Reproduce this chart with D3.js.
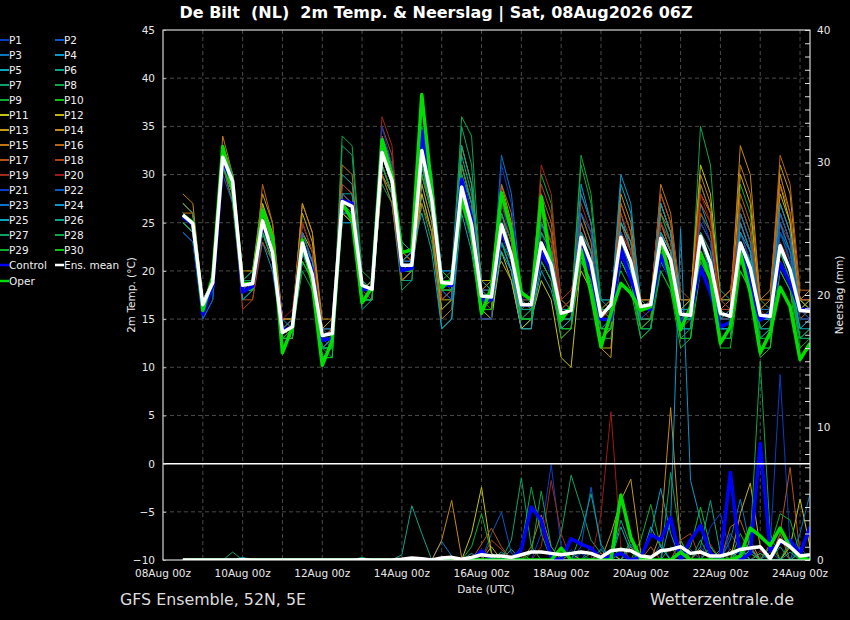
<!DOCTYPE html>
<html><head><meta charset="utf-8">
<script src="https://cdn.jsdelivr.net/npm/d3@7/dist/d3.min.js"></script>
<style>
body{margin:0;background:#000}
svg{display:block}
text{font-family:"DejaVu Sans","Noto Sans",sans-serif}
</style>
</head><body>
<svg id="chart" width="850" height="620"></svg>
<script>
// ---------------- DATA ----------------
const runStartUTC = Date.UTC(2026,7,8,12); // first valid time 08Aug 12Z
const stepHours = 6;
const xTickLabels = ["08Aug 00z","10Aug 00z","12Aug 00z","14Aug 00z","16Aug 00z","18Aug 00z","20Aug 00z","22Aug 00z","24Aug 00z"];
const xTickDates = [[8],[10],[12],[14],[16],[18],[20],[22],[24]];
const tempTicks = [45,40,35,30,25,20,15,10,5,0,-5,-10];
const precTicks = [40,30,20,10,0];
const memberNames = ["P1","P2","P3","P4","P5","P6","P7","P8","P9","P10","P11","P12","P13","P14","P15","P16","P17","P18","P19","P20","P21","P22","P23","P24","P25","P26","P27","P28","P29","P30"];
const memberColors = ["#0a3cc8","#0a58c8","#0a74c4","#0a98cc","#0aa8b8","#0aa48a","#0aa466","#0aa84a","#0aae2c","#12c012","#c4c412","#c4b012","#c49a12","#c48a12","#c07412","#b86412","#b85212","#b04018","#a02a18","#a01818","#0a3cc8","#0a58c8","#0a74c4","#0a98cc","#0aa8b8","#0aa48a","#0aa466","#0aa84a","#0aae2c","#12c012"];

// 2m temperature (°C), 6-hourly
const tP1=[26,25,16,18,33,29,18,19,26,22,13,13,24,21,13,14,28,27,17,18,33,30,21,20,30,26,18,19,30,26,18,17,27,23,15,16,24,21,15,15,22,20,14,15,25,22,16,17,22,20,14,14,26,23,16,15,24,21,14,15,25,21,16,15];
const tP2=[25,24,16,18,31,28,18,18,24,21,14,14,22,19,12,13,26,26,18,19,34,31,20,20,29,25,17,18,28,24,16,16,26,23,17,17,21,19,14,15,25,22,16,16,22,20,15,15,24,22,16,16,21,19,14,14,25,22,16,16,22,19,14,15];
const tP3=[26,25,17,19,32,30,19,19,25,22,15,15,23,21,14,13,29,28,18,18,31,28,20,21,33,28,19,18,27,23,16,17,32,28,18,17,26,23,16,16,21,19,14,15,24,21,15,16,26,23,16,15,24,22,15,16,21,19,13,14,24,22,16,17];
const tP4=[24,23,15,17,31,27,17,18,23,20,13,13,25,22,14,14,26,25,17,17,32,29,22,22,35,30,20,19,31,27,18,18,24,21,15,15,22,20,15,15,29,25,17,16,26,22,16,16,21,19,14,14,27,24,17,17,23,21,15,15,26,23,17,17];
const tP5=[26,25,16,19,32,29,19,20,27,23,15,14,22,20,12,12,30,29,19,18,34,31,23,22,28,24,14,15,26,22,15,15,23,20,14,15,20,18,14,14,23,21,15,16,29,26,17,17,25,23,16,16,22,20,14,14,27,24,16,16,21,19,14,15];
const tP6=[27,26,17,19,31,28,18,19,24,21,14,14,24,21,14,14,25,25,16,17,30,27,19,19,31,26,18,19,32,28,19,18,28,24,17,17,25,22,16,17,24,22,16,16,21,19,14,15,23,21,15,15,29,26,18,17,22,19,13,14,23,20,15,15];
const tP7=[27,26,16,18,33,30,19,20,25,23,14,15,21,19,12,11,33,32,19,18,29,27,18,19,33,28,19,20,35,31,17,16,25,22,16,17,23,21,14,14,26,23,17,17,24,21,17,16,27,24,16,16,20,18,13,13,26,23,15,15,27,24,17,16];
const tP8=[25,24,16,18,32,29,19,19,24,22,14,14,20,18,11,12,34,33,20,19,31,28,19,20,27,23,16,17,36,34,18,17,23,20,14,14,27,24,17,16,20,18,13,14,23,21,15,16,26,23,15,16,35,31,17,16,21,19,13,13,25,22,15,15];
const tP9=[26,25,17,19,33,29,18,18,26,23,15,15,23,20,13,13,27,26,17,18,33,30,21,21,31,26,19,19,29,25,17,18,27,24,18,17,30,27,17,16,32,28,17,17,22,20,15,15,20,18,12,13,24,21,16,15,29,26,17,16,22,20,13,14];
const tP10=[25,24,16,18,32,28,18,19,25,22,13,14,22,19,12,12,27,27,18,19,32,29,20,20,33,29,20,19,30,26,16,17,24,21,15,16,22,20,16,17,24,22,16,17,20,18,13,14,22,20,14,15,26,24,16,16,20,18,11,12,24,21,16,16];
const tP11=[26,25,16,18,31,28,18,19,26,23,14,13,24,22,13,14,26,25,17,17,33,30,21,22,30,26,18,18,28,25,16,15,22,19,14,15,19,17,11,10,21,19,13,14,23,21,16,16,25,22,16,17,31,28,17,18,23,20,14,14,29,25,17,16];
const tP12=[27,26,16,19,32,29,19,18,27,24,15,15,26,23,14,14,28,27,18,18,31,28,20,20,28,24,17,17,33,29,19,19,21,19,14,14,24,22,15,16,23,21,12,12,25,23,17,17,28,25,17,17,23,21,15,15,30,27,16,17,28,25,16,17];
const tP13=[27,26,17,19,33,30,20,20,28,25,15,15,27,24,14,15,26,25,17,17,30,28,19,20,29,25,16,17,31,27,18,19,29,25,16,16,23,21,15,15,20,18,12,11,27,24,16,16,24,22,16,16,25,23,17,17,25,22,16,16,31,28,17,18];
const tP14=[28,27,17,19,32,29,18,19,26,23,14,15,27,24,15,15,29,28,18,19,33,30,22,21,31,27,18,18,28,24,16,17,26,23,15,15,25,23,15,15,28,25,16,15,28,25,16,16,27,24,16,17,30,27,16,16,33,30,17,18,30,26,17,17];
const tP15=[26,26,17,18,34,30,19,18,25,23,14,14,22,20,12,13,31,30,18,18,32,29,21,21,27,24,15,16,30,26,17,16,28,24,16,16,21,19,13,14,25,22,15,15,24,22,15,16,29,26,17,17,28,26,16,17,31,28,17,17,26,23,15,16];
const tP16=[25,24,16,18,33,29,18,18,29,25,15,15,23,21,13,14,28,27,17,17,30,27,19,20,30,26,17,18,27,23,15,15,29,26,17,16,28,25,16,17,26,23,14,14,25,22,15,15,26,24,16,16,29,26,15,15,28,25,16,17,32,29,18,18];
const tP17=[27,26,17,19,31,27,17,17,24,21,14,13,25,22,13,13,27,26,18,18,34,31,22,21,32,28,18,19,29,25,16,16,25,22,15,15,27,24,16,16,24,22,16,17,27,24,17,17,25,22,16,16,27,25,17,18,26,23,16,16,29,26,17,17];
const tP18=[26,25,16,18,32,28,16,17,23,21,14,15,24,21,13,14,28,27,18,17,35,32,20,20,30,26,17,18,31,27,17,17,26,23,16,16,29,26,17,18,22,20,15,15,26,23,16,17,28,25,18,17,26,24,16,16,27,24,16,16,27,24,16,16];
const tP19=[27,26,16,19,33,30,19,19,25,22,14,14,23,20,12,13,29,28,17,18,36,33,21,21,31,27,19,19,28,24,17,16,24,22,16,16,31,28,16,17,27,24,16,16,23,21,14,15,25,23,16,16,24,22,15,15,24,21,15,15,25,23,16,16];
const tP20=[26,25,17,18,31,28,18,18,26,22,15,16,25,22,14,14,27,26,17,18,31,28,20,21,34,29,19,19,30,26,18,18,27,24,17,17,26,23,17,16,23,21,15,16,24,22,16,15,23,21,14,15,28,25,17,16,25,22,16,15,23,21,15,15];
const tP21=[25,24,16,18,32,29,18,19,24,22,14,14,21,19,12,12,28,27,17,17,35,31,21,21,34,29,18,17,27,23,15,15,31,27,17,18,24,22,15,16,22,20,15,15,22,20,15,16,24,21,15,15,25,23,14,14,22,20,14,14,24,21,15,15];
const tP22=[24,23,15,17,30,27,18,18,24,21,14,14,23,20,13,12,27,27,18,18,32,29,20,21,33,28,20,20,28,25,17,17,25,22,16,16,22,20,15,15,26,24,16,16,24,21,14,14,22,20,14,14,23,21,15,15,24,21,15,15,26,23,16,15];
const tP23=[26,25,16,18,32,29,19,19,25,22,14,15,24,21,14,14,25,25,17,17,33,30,21,21,32,27,18,17,29,26,18,18,24,21,15,15,25,22,16,16,28,25,17,17,23,20,14,14,24,21,15,16,22,20,14,14,26,23,16,16,25,22,16,16];
const tP24=[25,24,16,18,31,28,18,18,24,21,13,13,22,19,12,13,27,26,17,17,32,29,21,22,34,29,20,20,30,26,17,17,23,20,14,14,22,20,14,15,24,22,16,16,30,27,16,16,27,24,16,16,23,20,14,14,25,22,15,16,27,24,16,16];
const tP25=[26,25,16,18,31,28,17,18,25,22,14,14,23,21,13,13,26,26,17,18,31,28,21,22,26,22,14,15,28,24,16,16,22,20,15,15,21,19,14,15,22,20,14,14,25,23,16,16,24,22,15,15,22,19,14,14,24,22,15,15,22,20,14,14];
const tP26=[26,25,16,19,32,29,19,19,25,22,14,14,22,20,13,13,28,28,18,18,32,29,20,20,31,27,18,18,33,29,19,18,26,22,16,16,23,21,16,16,22,20,15,15,22,20,15,15,21,19,14,14,24,22,15,16,23,21,14,14,21,19,13,13];
const tP27=[27,26,17,19,32,30,19,19,26,23,14,14,22,20,12,12,27,26,17,17,32,29,20,21,31,26,18,19,30,27,17,17,25,22,17,16,22,20,15,15,21,19,14,14,21,19,14,14,23,21,15,15,21,19,13,13,22,20,14,15,20,18,13,14];
const tP28=[26,25,16,18,33,30,18,18,25,22,14,14,22,20,12,12,27,27,18,18,33,30,20,20,32,27,18,19,31,27,16,16,24,22,15,15,24,22,15,16,31,27,16,16,21,19,13,14,22,20,13,14,21,19,13,13,20,18,12,12,22,19,13,13];
const tP29=[26,25,16,18,32,29,18,18,24,22,13,14,21,19,11,11,27,26,17,18,31,28,20,20,30,26,18,18,28,25,16,16,23,21,15,15,21,19,13,14,21,19,13,13,22,20,14,14,20,18,13,13,22,20,13,13,21,19,13,13,21,19,12,13];
const tP30=[25,24,16,18,31,28,18,18,24,21,13,13,21,19,11,11,27,27,17,17,32,29,20,20,33,28,19,19,29,26,16,16,24,21,15,15,22,20,14,14,22,20,14,14,21,19,14,15,21,19,13,13,20,18,12,12,20,18,12,12,20,18,11,12];
const tControl=[25.6,24.8,15.5,18.5,31.5,29.0,17.8,18.4,25.0,22.0,13.8,14.2,23.0,20.0,12.8,13.0,27.3,27.0,18.0,18.3,33.5,30.0,20.0,20.3,34.5,28.0,18.5,18.5,29.5,25.5,17.0,17.0,24.2,21.5,16.5,16.5,22.0,20.0,15.4,16.0,22.5,20.0,15.0,14.9,22.2,19.1,16.3,16.0,21.6,19.1,14.6,15.6,20.4,17.7,14.2,14.7,22.5,18.7,14.9,15.6,20.8,18.7,16.0,16.0];
const tOper=[25.8,25.0,15.9,19.4,32.9,28.4,18.7,18.7,26.3,23.5,11.5,14.2,23.2,18.7,10.2,12.8,27.0,25.3,16.7,18.3,33.6,30.0,21.9,22.2,38.3,28.4,18.3,19.1,27.4,23.9,15.6,18.3,28.1,24.2,17.7,17.0,27.7,20.4,14.9,16.3,22.2,17.7,12.1,15.6,18.7,17.7,15.9,16.3,23.2,19.1,13.9,16.3,21.9,19.1,12.5,14.2,21.9,17.7,11.5,13.6,18.3,16.3,10.8,12.5];
const tMean=[25.8,24.9,16.5,18.8,31.8,29.3,18.5,18.7,25.2,21.9,13.6,14.2,22.9,19.6,13.3,13.5,27.2,26.7,18.5,18.1,32.3,29.4,20.6,20.6,32.5,27.4,18.8,18.7,28.7,24.8,17.4,17.3,24.8,21.6,16.5,16.5,22.9,20.6,15.6,15.9,23.5,20.8,15.3,16.5,23.5,20.9,16.3,16.5,23.4,21.1,15.5,15.4,23.6,20.8,15.6,15.3,22.9,20.3,15.4,15.3,22.6,20.1,15.9,15.8];

// Precipitation (mm)
const pP1=[0,0,0,0,0,0,0,0,0,0,0,0,0,0,0,0,0,0,0,0,0,0,0,0,0,0,0,0,0,0,0,0,0,0,0,0,2,7.2,1,0,0,0,0,0,.5,0,0,0,0,0,0,0,1,0,0,0,0,0,0,1,14,1,0,0];
const pP2=[0,0,0,0,0,0,0,0,0,0,0,0,0,0,0,0,0,0,0,0,0,0,0,0,0,0,0,0,0,0,0,2,3.6,.5,0,0,0,0,0,0,.5,0,0,0,0,0,0,0,1.2,0,0,0,0,0,0,2,.8,0,0,0,0,0,0,0];
const pP3=[0,0,0,0,0,0,0,0,0,0,0,0,0,0,0,0,0,0,0,0,0,0,0,0,0,0,1.4,.3,0,0,0,0,0,0,0,0,0,0,0,0,0,1,0,0,0,.8,0,0,0,0,0,0,0,0,0,1.5,4.6,1,0,0,0,0,.6,0];
const pP4=[0,0,0,0,0,0,0,0,0,0,0,0,0,0,0,0,0,0,0,0,0,0,0,0,0,0,0,0,0,0,.5,0,0,0,0,0,0,0,0,0,0,0,0,.6,0,0,0,2,5.4,2,0,0,0,1,0,0,0,0,.5,0,0,0,0,0];
const pP5=[0,0,0,0,0,0,.2,0,0,0,0,0,0,0,0,0,0,0,0,0,0,0,0,0,0,0,0,0,0,0,0,0,0,.8,0,0,0,0,0,0,0,0,0,0,2.5,.6,0,0,0,0,1.5,0,0,0,0,0,0,.8,0,0,0,1.2,0,0];
const pP6=[0,0,0,0,0,0,0,0,0,0,0,0,0,0,0,0,0,0,0,0,0,0,.4,4.1,2,0,0,0,0,.5,0,0,0,0,0,0,0,0,0,0,0,0,0,0,3,1,0,0,0,0,0,0,1,4.5,.5,0,0,0,0,0,1,0,0,0];
const pP7=[0,0,0,0,0,.6,0,0,0,0,0,0,0,0,0,0,0,0,0,0,0,0,0,0,0,0,0,0,0,0,0,0,0,0,0,0,0,0,2,6.4,4,1.5,.5,0,0,0,0,0,0,1,0,0,0,0,0,0,.8,0,0,0,0,0,0,0];
const pP8=[0,0,0,0,0,0,0,0,0,0,0,0,0,0,0,0,0,0,0,0,0,0,0,0,0,0,0,0,0,0,0,0,0,0,1,5.5,2,0,0,0,0,.5,0,0,0,0,0,0,0,6.6,1.5,0,0,0,0,0,0,0,.5,0,0,0,0,0];
const pP9=[0,0,0,0,0,0,0,0,0,0,0,0,0,0,0,0,0,0,0,0,0,0,0,0,0,0,0,0,0,1,3.5,.5,0,0,0,0,0,0,0,0,0,0,0,0,0,0,1.5,4.2,1,0,0,0,0,0,0,.6,0,0,0,0,0,1.5,0,0];
const pP10=[0,0,0,0,0,0,0,0,0,0,0,0,0,0,0,0,0,0,0,0,0,0,0,0,0,0,0,0,0,0,0,0,0,0,.5,0,0,0,0,0,0,0,0,0,1,0,0,0,0,0,0,1,4,1,0,0,0,0,0,0,0,0,.5,0];
const pP11=[0,0,0,0,0,0,0,0,0,0,0,0,0,0,0,0,0,0,0,0,0,0,0,0,0,0,0,0,0,2,5.5,.5,0,0,0,0,0,0,0,.5,0,0,0,0,0,0,0,0,0,0,.7,0,0,0,0,0,0,0,0,0,0,1,4.6,1];
const pP12=[0,0,0,0,0,0,0,0,0,0,0,0,0,0,0,0,0,0,0,0,0,0,0,0,0,0,0,0,0,0,0,1,0,0,0,0,0,0,0,0,0,0,0,.5,0,0,0,0,0,0,0,0,0,0,0,0,3.5,5.8,1,0,0,0,0,0];
const pP13=[0,0,0,0,0,0,0,0,0,0,0,0,0,0,0,0,0,0,0,0,0,0,0,0,0,0,0,0,0,0,0,0,0,0,0,0,0,0,0,0,0,0,0,2,4.5,6.1,.5,0,0,0,0,0,0,0,0,.8,0,0,0,0,0,0,0,0];
const pP14=[0,0,0,0,0,0,0,0,0,0,0,0,0,0,0,0,0,0,0,0,0,0,0,0,0,0,1.5,4.5,.2,0,0,0,0,0,0,0,0,0,0,0,0,0,0,0,0,0,0,0,2,11.5,1,0,0,0,0,0,0,1.5,0,0,0,0,0,0];
const pP15=[0,0,0,0,0,0,0,0,0,0,0,0,0,0,0,0,0,0,0,0,0,0,0,0,0,0,0,0,0,0,0,0,0,0,0,1,3.4,1,0,0,0,0,0,0,0,1,0,0,0,0,0,0,.8,0,0,0,0,0,0,1.2,0,0,0,0];
const pP16=[0,0,0,0,0,0,0,0,0,0,0,0,0,0,0,0,0,0,0,0,0,0,0,0,0,0,0,0,0,0,0,0,0,0,0,0,0,0,.6,0,0,0,0,0,0,0,0,1,0,0,0,0,0,0,0,2.5,3,1,0,0,2,0,0,0];
const pP17=[0,0,0,0,0,0,0,0,0,0,0,0,0,0,0,0,0,0,0,0,0,0,0,0,0,0,0,0,0,0,1.2,2.4,1,0,0,0,0,0,0,0,0,0,.5,0,0,0,0,0,0,0,0,0,0,0,0,0,0,0,0,0,2,7,.5,0];
const pP18=[0,0,0,0,0,0,0,0,0,0,0,0,0,0,0,0,0,0,0,0,0,0,0,0,0,0,0,0,0,0,0,1.5,.8,0,0,0,0,0,0,0,0,0,0,0,0,0,0,0,0,0,1.5,2,0,0,.6,0,0,0,0,0,0,0,0,0];
const pP19=[0,0,0,0,0,0,0,0,0,0,0,0,0,0,0,0,0,0,0,0,0,0,0,0,0,0,0,0,0,0,0,0,0,0,0,0,1,6,2,0,0,0,0,0,0,0,.5,0,0,0,0,0,0,1.2,0,0,0,0,0,0,0,0,0,0];
const pP20=[0,0,0,0,0,0,0,0,0,0,0,0,0,0,0,0,0,0,0,0,0,0,0,0,0,0,0,0,0,0,0,0,0,0,0,0,0,0,0,0,0,0,3.4,11.2,1,0,0,0,0,0,0,0,0,0,0,0,0,0,.7,0,0,0,0,0];
const pP21=[0,0,0,0,0,0,0,0,0,0,0,0,0,0,0,0,0,0,0,0,0,0,0,0,0,0,0,0,0,0,0,0,0,0,0,0,0,0,0,.8,0,0,0,0,0,0,0,0,0,0,0,0,0,2.5,3.5,.5,0,0,0,0,0,0,1,0];
const pP22=[0,0,0,0,0,0,0,0,0,0,0,0,0,0,0,0,0,0,0,0,0,0,0,0,0,0,0,0,0,0,0,0,0,0,0,0,0,0,0,0,1,5.5,1,0,0,0,0,0,0,0,.5,0,0,0,0,0,0,0,0,.6,0,0,0,0];
const pP23=[0,0,0,0,0,0,0,0,0,0,0,0,0,0,0,0,0,0,0,0,0,0,0,0,0,0,0,0,0,0,.4,0,0,0,0,0,0,0,0,0,0,0,0,0,0,1.2,0,0,0,0,0,.8,0,0,0,0,0,0,0,0,0,0,2,5];
const pP24=[0,0,0,0,0,0,0,0,0,0,0,0,0,0,0,0,0,0,0,0,0,0,0,0,0,0,0,0,0,0,0,0,0,0,0,0,0,0,0,0,0,0,0,0,0,0,0,0,0,3,25,6,3,0,0,0,1,0,0,0,0,0,0,0];
const pP25=[0,0,0,0,0,0,0,0,0,0,0,0,0,0,0,0,0,0,0,0,0,0,0,0,0,0,0,0,0,0,0,0,.6,0,0,0,0,0,0,0,0,0,.8,0,0,0,0,2.5,1,0,0,0,0,0,0,0,0,.8,0,0,0,0,0,0];
const pP26=[0,0,0,0,0,0,0,0,0,0,0,0,0,0,0,0,0,0,0,0,0,0,0,0,0,0,0,0,0,0,0,0,0,0,0,0,0,0,0,0,2,5,1.2,0,0,0,0,0,0,0,0,0,0,0,.8,0,0,0,0,0,0,.6,0,0];
const pP27=[0,0,0,0,0,0,0,0,0,0,0,0,0,0,0,0,0,0,.2,0,0,0,0,0,0,0,0,0,0,0,0,0,0,1.5,6.2,1,0,0,0,0,0,0,0,0,0,0,.6,0,0,0,0,0,1.5,0,0,0,0,0,0,0,0,0,0,0];
const pP28=[0,0,0,0,0,0,0,0,0,0,0,0,0,0,0,0,0,0,0,0,0,0,0,0,0,0,0,0,0,0,0,0,0,0,0,.5,5.2,1,0,0,0,0,0,0,0,0,0,0,0,0,0,0,0,0,0,0,0,1.5,15,2,0,0,0,0];
const pP29=[0,0,0,0,0,0,0,0,0,0,0,0,0,0,0,0,0,0,0,0,0,0,0,0,0,0,0,0,0,0,0,0,0,0,0,0,0,0,0,0,0,0,0,0,.6,0,0,0,0,0,0,0,0,1,0,0,0,0,0,1,3.5,3,.5,0];
const pP30=[0,0,0,0,0,0,0,0,0,0,0,0,0,0,0,0,0,0,0,0,0,0,0,0,0,0,0,0,0,0,0,0,0,0,0,0,0,0,.6,0,0,0,0,0,0,1.5,0,0,0,0,.8,0,0,0,0,0,2,.5,0,0,0,0,0,0];
const pControl=[0,0,0,0,0,0,0,0,0,0,0,0,0,0,0,0,0,0,0,0,0,0,0,0,0,0,0,0,0,0,.7,0,0,0,.8,4,3,.2,0,1.6,1.2,.9,.1,.3,.5,0,.2,1.9,1.5,3.2,0,1.5,2.6,.5,0,6.6,0,.5,8.8,.7,1.3,1.5,.5,2.5];
const pOper=[0,0,0,0,0,0,0,0,0,0,0,0,0,0,0,0,0,0,0,0,0,0,0,0,0,0,0,0,0,0,0,0,0,0,0,0,0,0,.9,0,0,0,0,0,4.9,1.7,.1,0,0,0,.6,0,0,0,0,0,.3,2.4,1.8,1.1,2.4,1,.2,0];
const pMean=[0,0,0,0,0,0,.02,0,0,0,0,0,0,0,0,0,0,0,.02,0,0,0,.05,.15,.1,0,.15,.2,.05,.2,.4,.3,.3,.2,.4,.6,.6,.5,.4,.5,.6,.5,.2,.7,.8,.7,.3,.2,.7,.8,1,.5,.6,.3,.3,.5,.8,.9,1,.1,1.5,1,.3,.4];

const tempMembers=[tP1,tP2,tP3,tP4,tP5,tP6,tP7,tP8,tP9,tP10,tP11,tP12,tP13,tP14,tP15,tP16,tP17,tP18,tP19,tP20,tP21,tP22,tP23,tP24,tP25,tP26,tP27,tP28,tP29,tP30];
const precMembers=[pP1,pP2,pP3,pP4,pP5,pP6,pP7,pP8,pP9,pP10,pP11,pP12,pP13,pP14,pP15,pP16,pP17,pP18,pP19,pP20,pP21,pP22,pP23,pP24,pP25,pP26,pP27,pP28,pP29,pP30];

// ---------------- CHART ----------------
const svg=d3.select("#chart");
svg.append("rect").attr("width",850).attr("height",620).attr("fill","#000");
const P={l:163,r:810,t:30,b:560};
const times=tMean.map((d,i)=>new Date(runStartUTC+i*stepHours*3600e3));
const x=d3.scaleUtc().domain([new Date(Date.UTC(2026,7,8,0)),new Date(Date.UTC(2026,7,24,6))]).range([P.l,P.r]);
const yT=d3.scaleLinear().domain([-10,45]).range([P.b,P.t]);
const yP=d3.scaleLinear().domain([0,40]).range([P.b,P.t]);

svg.append("clipPath").attr("id","clip").append("rect").attr("x",P.l).attr("y",P.t).attr("width",P.r-P.l).attr("height",P.b-P.t);

const grid=svg.append("g");
const gridColor="#4a4a4a";
tempTicks.filter(v=>v!==45&&v!==-10&&v!==0).forEach(v=>{
  grid.append("line").attr("x1",P.l).attr("x2",P.r).attr("y1",yT(v)).attr("y2",yT(v))
    .attr("stroke",gridColor).attr("stroke-dasharray","4,3").attr("stroke-width",1);
});
d3.range(9,25).forEach(day=>{
  const xx=x(new Date(Date.UTC(2026,7,day,0)));
  grid.append("line").attr("x1",xx).attr("x2",xx).attr("y1",P.t).attr("y2",P.b)
    .attr("stroke",gridColor).attr("stroke-dasharray","4,3").attr("stroke-width",1);
});

const plot=svg.append("g").attr("clip-path","url(#clip)");
const lineT=d3.line().x((d,i)=>x(times[i])).y(d=>yT(d));
const lineP=d3.line().x((d,i)=>x(times[i])).y(d=>yP(d));

tempMembers.forEach((s,k)=>{
  plot.append("path").attr("d",lineT(s)).attr("fill","none").attr("stroke",memberColors[k]).attr("stroke-width",1);
});
precMembers.forEach((s,k)=>{
  plot.append("path").attr("d",lineP(s)).attr("fill","none").attr("stroke",memberColors[k]).attr("stroke-width",1);
});
// zero line
svg.append("line").attr("x1",P.l).attr("x2",P.r).attr("y1",yT(0)).attr("y2",yT(0)).attr("stroke","#fff").attr("stroke-width",1.5);

const thick=[[tControl,pControl,"#0000ff"],[tOper,pOper,"#00dd00"],[tMean,pMean,"#ffffff"]];
thick.forEach(([t,p,c])=>{
  plot.append("path").attr("d",lineP(p)).attr("fill","none").attr("stroke",c).attr("stroke-width",3.5).attr("stroke-linejoin","round");
  plot.append("path").attr("d",lineT(t)).attr("fill","none").attr("stroke",c).attr("stroke-width",3.5).attr("stroke-linejoin","round");
});

// frame
svg.append("rect").attr("x",P.l).attr("y",P.t).attr("width",P.r-P.l).attr("height",P.b-P.t)
  .attr("fill","none").attr("stroke","#fff").attr("stroke-width",1);

const lbl="#e8e8e8";
// left axis
const yAxisL=d3.axisLeft(yT).tickValues(tempTicks).tickSize(-3).tickPadding(8).tickFormat(d3.format("d"));
const gL=svg.append("g").attr("transform",`translate(${P.l},0)`).call(yAxisL);
gL.select(".domain").remove();
gL.selectAll("line").attr("stroke","#bbb");
gL.selectAll("text").attr("fill",lbl).attr("font-size",10.5).attr("font-family","DejaVu Sans");
// right axis
const gR=svg.append("g").attr("transform",`translate(${P.r},0)`);
gR.call(d3.axisRight(yP).tickValues(d3.range(0,41,1)).tickSize(-5).tickFormat(""));
gR.select(".domain").remove();
gR.selectAll("line").attr("stroke","#ddd");
gR.selectAll(".lbl").data(precTicks).enter().append("text").attr("x",7).attr("y",d=>yP(d)).attr("dy","0.35em")
  .attr("fill",lbl).attr("font-size",10.5).text(d=>d);
// x axis labels
svg.append("g").selectAll("text").data(xTickLabels).enter().append("text")
  .attr("x",(d,i)=>x(new Date(Date.UTC(2026,7,xTickDates[i][0],0)))).attr("y",577)
  .attr("text-anchor","middle").attr("fill",lbl).attr("font-size",10.5).text(d=>d);

// titles
svg.append("text").attr("x",436).attr("y",18).attr("text-anchor","middle").attr("fill","#fff")
  .attr("font-size",16).attr("font-weight","bold").attr("textLength",513).attr("lengthAdjust","spacingAndGlyphs")
  .text("De Bilt  (NL)  2m Temp. & Neerslag | Sat, 08Aug2026 06Z").style("white-space","pre");
svg.append("text").attr("transform","translate(135,295) rotate(-90)").attr("text-anchor","middle")
  .attr("fill",lbl).attr("font-size",10.5).text("2m Temp. (°C)");
svg.append("text").attr("transform","translate(843,295) rotate(-90)").attr("text-anchor","middle")
  .attr("fill",lbl).attr("font-size",10.5).text("Neerslag (mm)");
svg.append("text").attr("x",486).attr("y",593).attr("text-anchor","middle").attr("fill",lbl).attr("font-size",10.5).text("Date (UTC)");
svg.append("text").attr("x",120).attr("y",605).attr("fill","#ddd").attr("font-size",16)
  .attr("textLength",186).attr("lengthAdjust","spacingAndGlyphs").text("GFS Ensemble, 52N, 5E");
svg.append("text").attr("x",794).attr("y",605).attr("text-anchor","end").attr("fill","#ddd").attr("font-size",16)
  .text("Wetterzentrale.de");

// legend
const leg=svg.append("g");
const legItems=memberNames.map((n,i)=>({n,c:memberColors[i],w:2}));
legItems.push({n:"Control",c:"#0000ff",w:2.5},{n:"Ens. mean",c:"#ffffff",w:2.5},{n:"Oper",c:"#00dd00",w:2.5});
legItems.forEach((d,i)=>{
  const col=i%2, row=Math.floor(i/2);
  const yy=40+row*15+(row>=16?1:0);
  const x0=col===0?0:55;
  leg.append("line").attr("x1",x0).attr("x2",x0+9).attr("y1",yy).attr("y2",yy).attr("stroke",d.c).attr("stroke-width",d.w);
  leg.append("text").attr("x",x0+9).attr("y",yy).attr("dy","0.36em").attr("fill","#f0f0f0").attr("font-size",10.5).text(d.n);
});
</script>
</body></html>
